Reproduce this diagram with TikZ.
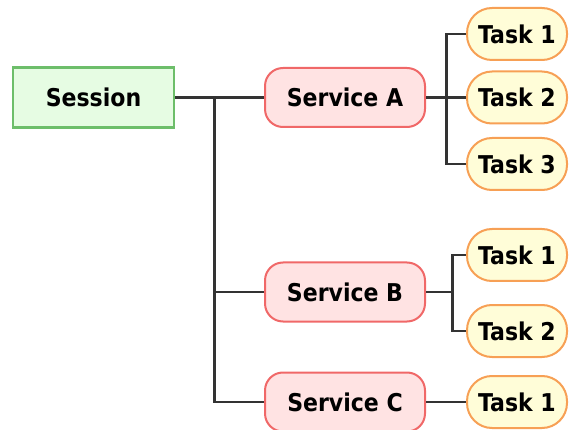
\documentclass[tikz,border=0pt]{standalone}
\usepackage{fontspec}
\setmainfont{DejaVu Sans Condensed}
\definecolor{sessfill}{HTML}{E6FCE3}
\definecolor{sessline}{HTML}{6DBE6A}
\definecolor{servfill}{HTML}{FFE3E3}
\definecolor{servline}{HTML}{F06868}
\definecolor{taskfill}{HTML}{FFFDD8}
\definecolor{taskline}{HTML}{F7A055}
\begin{document}
\begin{tikzpicture}[x=1pt,y=-1pt,
  every node/.style={font=\fontsize{24.5}{28}\selectfont\bfseries, inner sep=0pt, text=black},
  sessionbox/.style={draw=sessline, fill=sessfill, line width=2.2pt,
    minimum width=161pt, minimum height=60pt},
  servicebox/.style={draw=servline, fill=servfill, line width=2pt, rounded corners=18pt,
    minimum width=160pt, minimum height=59pt},
  taskbox/.style={draw=taskline, fill=taskfill, line width=2pt, rounded corners=25pt,
    minimum width=100pt, minimum height=52pt},
  link/.style={draw=black!80, line width=2.6pt}]
  \useasboundingbox (0,0) rectangle (570,430);

  \node[sessionbox] (session) at (93.5,97.5) {Session};

  \node[servicebox] (sa) at (345,97.5) {Service A};
  \node[servicebox] (sb) at (345,292) {Service B};
  \node[servicebox] (sc) at (345,402) {Service C};

  \node[taskbox] (ta1) at (517,34) {Task 1};
  \node[taskbox] (ta2) at (517,97.5) {Task 2};
  \node[taskbox] (ta3) at (517,164) {Task 3};
  \node[taskbox] (tb1) at (517,255) {Task 1};
  \node[taskbox] (tb2) at (517,331) {Task 2};
  \node[taskbox] (tc1) at (517,402) {Task 1};

  % trunk from the session to the services
  \coordinate (j0) at (214.5,97.5);
  \path[link] (session.east) -- (j0) |- (sc.west);
  \path[link] (j0) -- (sa.west);
  \path[link] (j0) |- (sb.west);

  % tasks of service A
  \coordinate (ja) at (446.5,97.5);
  \path[link] (sa.east) -- (ja);
  \path[link] (ja) |- (ta1.west);
  \path[link] (ja) -- (ta2.west);
  \path[link] (ja) |- (ta3.west);

  % tasks of service B
  \coordinate (jb) at (452.5,292);
  \path[link] (sb.east) -- (jb);
  \path[link] (jb) |- (tb1.west);
  \path[link] (jb) |- (tb2.west);

  % task of service C
  \path[link] (sc.east) -- (tc1.west);
\end{tikzpicture}
\end{document}
